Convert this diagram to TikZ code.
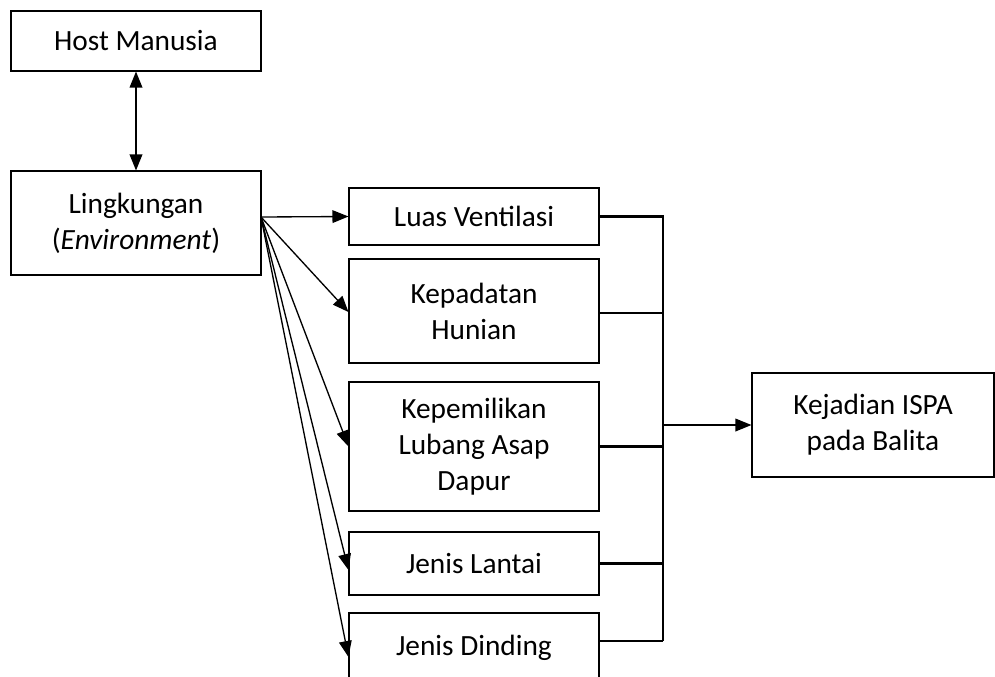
\documentclass[tikz,border=0pt]{standalone}
\usepackage{fontspec}
\setmainfont{Carlito}
\usetikzlibrary{arrows.meta,calc}
\tikzset{
  box/.style={draw, line width=0.8pt, rectangle, align=center, inner sep=0pt,
    font=\fontsize{22pt}{27pt}\selectfont},
  arr/.style={line width=1pt, -{Triangle[length=12pt,width=9.5pt]}},
  bus/.style={line width=2pt},
}
\begin{document}
\begin{tikzpicture}[x=0.75pt,y=-0.75pt]
\useasboundingbox (0,0) rectangle (995,676);
\clip (0,0) rectangle (995,676);
\node[box, minimum width=187.5pt, minimum height=45pt] (host) at (136,41) {Host Manusia};
\node[box, minimum width=187.5pt, minimum height=78pt] (ling) at (136,223) {Lingkungan\\(\textit{Environment})};
\node[box, minimum width=187.5pt, minimum height=42.75pt] (luas) at (474,216.5) {Luas Ventilasi};
\node[box, minimum width=187.5pt, minimum height=78pt] (kepa) at (474,311) {Kepadatan\\Hunian};
\node[box, minimum width=187.5pt, minimum height=96.75pt] (kepe) at (474,446.5) {Kepemilikan\\Lubang Asap\\Dapur};
\node[box, minimum width=187.5pt, minimum height=47.25pt] (lant) at (474,563.5) {Jenis Lantai};
\node[box, minimum width=187.5pt, minimum height=52.5pt] (dind) at (474,648) {Jenis Dinding};
\node[box, minimum width=181.5pt, minimum height=78pt] (isp) at (873,425) {Kejadian ISPA\\pada Balita};
\coordinate (src) at (261,217);
\coordinate (bt) at (663,216.5);
\coordinate (bb) at (663,641);
\coordinate (bm) at (663,425);
\coordinate (kae) at ($(kepa.east)+(0,2)$);
\coordinate (die) at ($(dind.east)+(0,-7)$);
\draw[line width=1pt, {Triangle[length=12pt,width=9.5pt]}-{Triangle[length=12pt,width=9.5pt]}] (host.south) -- (ling.north);
\draw[arr] (src) -- (luas.west);
\draw[arr] (src) -- ($(kepa.west)+(0,1)$);
\draw[arr] (src) -- (kepe.west);
\draw[arr] (src) -- ($(lant.west)+(0,6.5)$);
\draw[arr] (src) -- ($(dind.west)+(0,9)$);
\draw[bus] (luas.east) -- (bt) -- (bb);
\draw[bus] (kae) -- (kae -| bt);
\draw[bus] (kepe.east) -- (kepe.east -| bt);
\draw[bus] (lant.east) -- (lant.east -| bt);
\draw[bus] (die) -- (bb);
\draw[arr] (bm) -- (isp.west);
\end{tikzpicture}
\end{document}
